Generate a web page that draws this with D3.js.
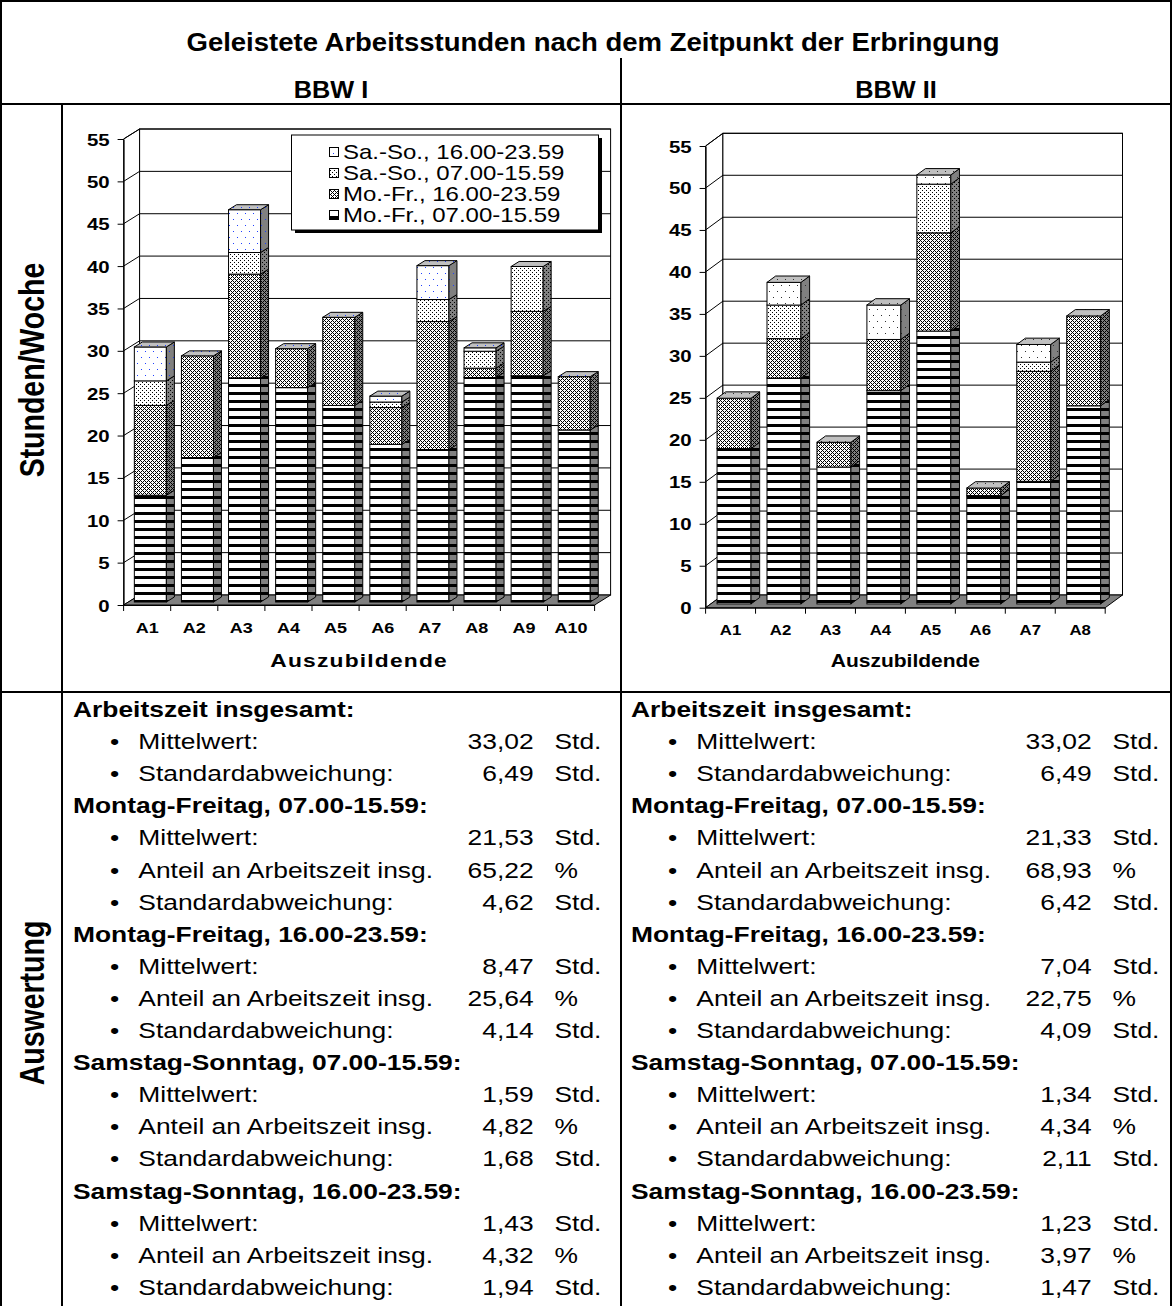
<!DOCTYPE html>
<html>
<head>
<meta charset="utf-8">
<script src="https://cdn.jsdelivr.net/npm/d3@7/dist/d3.min.js"></script>
<style>
  body { margin: 0; background: #fff; }
  svg { display: block; }
  text { font-family: Arial, "Liberation Sans", Helvetica, sans-serif; fill: #000; }
</style>
</head>
<body>
<svg id="sheet" width="1172" height="1306"></svg>
<script>
// ---- data: weekly hours per trainee, stacked by time slot ----
const seriesNames = ["Mo.-Fr., 07.00-15.59", "Mo.-Fr., 16.00-23.59", "Sa.-So., 07.00-15.59", "Sa.-So., 16.00-23.59"];

const catsBBW1 = ["A1", "A2", "A3", "A4", "A5", "A6", "A7", "A8", "A9", "A10"];
const bbw1MoFrDay     = [12.6, 17.05, 26.45, 25.3, 23.2, 18.6, 18.0, 26.5, 26.7, 20.3];
const bbw1MoFrEvening = [10.6, 12.0, 12.25, 4.6, 10.4, 4.35, 15.1, 1.1, 7.6, 6.3];
const bbw1WeDay       = [2.9, 0, 2.55, 0, 0, 0.65, 2.6, 2.0, 5.3, 0];
const bbw1WeEvening   = [4.0, 0, 5.05, 0, 0, 0.7, 4.0, 0.4, 0, 0];

const catsBBW2 = ["A1", "A2", "A3", "A4", "A5", "A6", "A7", "A8"];
const bbw2MoFrDay     = [18.5, 26.9, 16.3, 25.4, 32.5, 12.9, 14.6, 23.6];
const bbw2MoFrEvening = [6.0, 4.7, 2.95, 6.1, 11.7, 0.9, 13.1, 10.7];
const bbw2WeDay       = [0, 4.0, 0, 0, 5.8, 0, 1.1, 0];
const bbw2WeEvening   = [0, 2.7, 0, 4.1, 1.1, 0, 2.1, 0];

const yTicks = [0, 5, 10, 15, 20, 25, 30, 35, 40, 45, 50, 55];

// ---- evaluation table ----
const sectionTitles = [
  "Arbeitszeit insgesamt:",
  "Montag-Freitag, 07.00-15.59:",
  "Montag-Freitag, 16.00-23.59:",
  "Samstag-Sonntag, 07.00-15.59:",
  "Samstag-Sonntag, 16.00-23.59:"
];
const sectionItems = [
  ["Mittelwert:", "Standardabweichung:"],
  ["Mittelwert:", "Anteil an Arbeitszeit insg.", "Standardabweichung:"],
  ["Mittelwert:", "Anteil an Arbeitszeit insg.", "Standardabweichung:"],
  ["Mittelwert:", "Anteil an Arbeitszeit insg.", "Standardabweichung:"],
  ["Mittelwert:", "Anteil an Arbeitszeit insg.", "Standardabweichung:"]
];
const sectionUnits = [
  ["Std.", "Std."],
  ["Std.", "%", "Std."],
  ["Std.", "%", "Std."],
  ["Std.", "%", "Std."],
  ["Std.", "%", "Std."]
];
const statsBBW1 = [
  ["33,02", "6,49"],
  ["21,53", "65,22", "4,62"],
  ["8,47", "25,64", "4,14"],
  ["1,59", "4,82", "1,68"],
  ["1,43", "4,32", "1,94"]
];
const statsBBW2 = [
  ["33,02", "6,49"],
  ["21,33", "68,93", "6,42"],
  ["7,04", "22,75", "4,09"],
  ["1,34", "4,34", "2,11"],
  ["1,23", "3,97", "1,47"]
];

// ---- helpers ----
const SX = 1.2;   // typeface is set slightly wide throughout
const svg = d3.select("#sheet");
const defs = svg.append("defs");

function label(g, x, y, str, o = {}) {
  const sx = o.sx || SX;
  return g.append("text")
    .attr("transform", `translate(${x},${y}) scale(${sx},1)` + (o.rot ? ` rotate(${o.rot})` : ""))
    .attr("text-anchor", o.anchor || "start")
    .attr("font-size", o.size || 22)
    .attr("font-weight", o.bold ? "bold" : "normal")
    .attr("letter-spacing", o.ls || null)
    .text(str);
}

function pattern(id, w, h, bg, cells, color) {
  const p = defs.append("pattern").attr("id", id)
    .attr("patternUnits", "userSpaceOnUse").attr("width", w).attr("height", h);
  p.append("rect").attr("width", w).attr("height", h).attr("fill", bg);
  cells.forEach(([cx, cy, cw, ch]) => p.append("rect")
    .attr("x", cx).attr("y", cy).attr("width", cw || 1).attr("height", ch || 1).attr("fill", color));
}

// fill patterns: front and side face per series; top faces use a lighter tone
const FRONT = "#ffffff", SIDE = "#808080", TOP = "#c0c0c0";
const crossCells = [[0,0],[1,1],[1,3],[2,2],[3,1],[3,3]];
const dotCells = [[0,0],[2,2]];
const sparseCells = [[1,3],[5,9]];
[["f", FRONT], ["s", SIDE]].forEach(([k, bg]) => {
  pattern(`p0${k}`, 8, 8, bg, [[0, 0, 8, 3]], "#000");
  pattern(`p1${k}`, 4, 4, bg, crossCells, "#000");
  pattern(`p2${k}`, 4, 4, bg, dotCells, "#000");
  pattern(`p3${k}L`, 8, 12, bg, sparseCells, "#2040ff");
  pattern(`p3${k}R`, 8, 12, bg, sparseCells, "#303030");
});
pattern("ptopL", 8, 12, TOP, sparseCells, "#2040ff");
pattern("ptopR", 8, 12, TOP, sparseCells, "#303030");

function fillFor(si, face, side) {
  return si === 3 ? `url(#p3${face}${side})` : `url(#p${si}${face})`;
}

// ---- 3-D stacked column chart ----
function drawChart(cfg) {
  const g = svg.append("g");
  const { cats, series, x0, x1, y0, y55, dx, dy, side } = cfg;
  const y = d3.scaleLinear().domain([0, 55]).range([y0, y55]);
  const x = d3.scaleBand().domain(cats).range([x0, x1]);
  const bw = x.bandwidth();

  // side wall
  g.append("polygon")
    .attr("points", [[x0, y0], [x0 + dx, y0 + dy], [x0 + dx, y(55) + dy], [x0, y(55)]].join(" "))
    .attr("fill", "#fff").attr("stroke", "#000");
  // back wall
  g.append("rect").attr("x", x0 + dx).attr("y", y(55) + dy)
    .attr("width", x1 - x0).attr("height", y0 - y(55))
    .attr("fill", "#fff").attr("stroke", "#000");
  // gridlines on both walls
  g.selectAll("path.grid").data(yTicks.filter(t => t > 0)).join("path")
    .attr("class", "grid")
    .attr("d", t => `M${x0},${y(t)}L${x0 + dx},${y(t) + dy}H${x1 + dx}`)
    .attr("fill", "none").attr("stroke", "#000");
  // floor
  g.append("polygon")
    .attr("points", [[x0, y0], [x1, y0], [x1 + dx, y0 + dy], [x0 + dx, y0 + dy]].join(" "))
    .attr("fill", "#808080").attr("stroke", "#000");

  // value axis
  const ya = g.append("g").attr("transform", `translate(${x0},0)`)
    .call(d3.axisLeft(y).tickValues(yTicks).tickSize(6).tickSizeOuter(0));
  ya.select(".domain").attr("stroke", "#000");
  ya.selectAll(".tick line").attr("stroke", "#000");
  ya.selectAll(".tick text")
    .attr("x", null).attr("dy", null)
    .attr("transform", `translate(-14,6) scale(${SX},1)`)
    .attr("font-size", cfg.tickSize).attr("font-weight", "bold")
    .attr("font-family", "Arial, 'Liberation Sans', sans-serif").attr("fill", "#000");

  // category axis
  const xa = g.append("g").attr("transform", `translate(0,${y0})`)
    .call(d3.axisBottom(x).tickSize(0).tickSizeOuter(0));
  xa.select(".domain").attr("stroke", "#000");
  xa.selectAll(".tick text")
    .attr("y", null).attr("dy", null)
    .attr("transform", `translate(0,${cfg.catY - y0}) scale(${SX},1)`)
    .attr("font-size", cfg.catSize).attr("font-weight", "bold")
    .attr("font-family", "Arial, 'Liberation Sans', sans-serif").attr("fill", "#000");
  g.selectAll("line.bound").data(d3.range(cats.length + 1)).join("line")
    .attr("class", "bound")
    .attr("x1", i => x0 + i * bw).attr("x2", i => x0 + i * bw)
    .attr("y1", y0).attr("y2", y0 + 6).attr("stroke", "#000");

  // columns
  const fw = bw * 0.68;
  const ox = 0.2 * dx, oy = 0.3 * dy;      // column front plane inside the box
  const bdx = 0.5 * dx, bdy = 0.5 * dy;    // column depth
  cats.forEach((c, ci) => {
    const bx = x(c) + (bw - fw) / 2 + ox;
    let base = 0;
    series.forEach((vals, si) => {
      const v = vals[ci];
      if (!(v > 0)) return;
      const yb = y(base) + oy, yt = y(base + v) + oy;
      g.append("rect").attr("x", bx).attr("y", yt).attr("width", fw).attr("height", yb - yt)
        .attr("fill", fillFor(si, "f", side)).attr("stroke", "#000");
      g.append("polygon")
        .attr("points", [[bx + fw, yb], [bx + fw + bdx, yb + bdy], [bx + fw + bdx, yt + bdy], [bx + fw, yt]].join(" "))
        .attr("fill", fillFor(si, "s", side)).attr("stroke", "#000");
      base += v;
    });
    const yt = y(base) + oy;
    g.append("polygon")
      .attr("points", [[bx, yt], [bx + fw, yt], [bx + fw + bdx, yt + bdy], [bx + bdx, yt + bdy]].join(" "))
      .attr("fill", `url(#ptop${side})`).attr("stroke", "#000");
  });

  // axis title
  label(g, (x0 + x1) / 2, cfg.titleY, "Auszubildende",
    { anchor: "middle", size: cfg.titleSize, bold: true, ls: cfg.titleLs });
  return g;
}

drawChart({
  cats: catsBBW1, series: [bbw1MoFrDay, bbw1MoFrEvening, bbw1WeDay, bbw1WeEvening],
  x0: 123.6, x1: 594.6, y0: 605, y55: 139, dx: 16, dy: -10, side: "L",
  tickSize: 17, catSize: 15, catY: 633, titleY: 667, titleSize: 19, titleLs: 1
});
drawChart({
  cats: catsBBW2, series: [bbw2MoFrDay, bbw2MoFrEvening, bbw2WeDay, bbw2WeEvening],
  x0: 705.6, x1: 1105.2, y0: 607.7, y55: 146, dx: 17.3, dy: -12.7, side: "R",
  tickSize: 17, catSize: 14, catY: 635, titleY: 667, titleSize: 17.5, titleLs: 0
});

// legend (BBW I)
const lg = svg.append("g");
lg.append("rect").attr("x", 295).attr("y", 138).attr("width", 307).attr("height", 95).attr("fill", "#000");
lg.append("rect").attr("x", 291.5).attr("y", 135).attr("width", 307).attr("height", 95)
  .attr("fill", "#fff").attr("stroke", "#000");
[3, 2, 1, 0].forEach((si, row) => {
  const cy = 152 + row * 21;
  lg.append("rect").attr("x", 329.5).attr("y", cy - 4.5).attr("width", 9).attr("height", 9)
    .attr("fill", fillFor(si, "f", "L")).attr("stroke", "#000");
  label(lg, 343, cy + 7, seriesNames[si], { size: 20 });
});

// ---- table frame and headings ----
const frame = svg.append("g").attr("stroke", "#000").attr("stroke-width", 2).attr("fill", "none");
frame.append("path").attr("d", "M1,1306V1H1171V1306");
frame.append("line").attr("x1", 0).attr("x2", 1172).attr("y1", 104).attr("y2", 104);
frame.append("line").attr("x1", 0).attr("x2", 1172).attr("y1", 692).attr("y2", 692);
frame.append("line").attr("x1", 621).attr("x2", 621).attr("y1", 58).attr("y2", 1306);
frame.append("line").attr("x1", 62).attr("x2", 62).attr("y1", 104).attr("y2", 1306);

const head = svg.append("g");
label(head, 593, 51, "Geleistete Arbeitsstunden nach dem Zeitpunkt der Erbringung", { anchor: "middle", size: 25, bold: true, sx: 1.1 });
label(head, 331, 98, "BBW I", { anchor: "middle", size: 23, bold: true, sx: 1.1 });
label(head, 896, 98, "BBW II", { anchor: "middle", size: 23, bold: true, sx: 1.1 });
label(head, 44, 370, "Stunden/Woche", { anchor: "middle", size: 28.5, bold: true, rot: -90 });
label(head, 44, 1003, "Auswertung", { anchor: "middle", size: 28.5, bold: true, rot: -90 });

// ---- evaluation text ----
function drawStats(left, stats) {
  const g = svg.append("g");
  let row = 0;
  const base = 717, step = 32.1;
  sectionTitles.forEach((t, s) => {
    label(g, left, base + row * step, t, { bold: true, size: 22 });
    row++;
    sectionItems[s].forEach((it, k) => {
      const yy = base + row * step;
      label(g, left + 41.6, yy, "\u2022", { anchor: "middle", size: 22 });
      label(g, left + 65.3, yy, it, { size: 22 });
      label(g, left + 460.6, yy, stats[s][k], { anchor: "end", size: 22 });
      label(g, left + 481.5, yy, sectionUnits[s][k], { size: 22 });
      row++;
    });
  });
}
drawStats(73, statsBBW1);
drawStats(631, statsBBW2);
</script>
</body>
</html>
